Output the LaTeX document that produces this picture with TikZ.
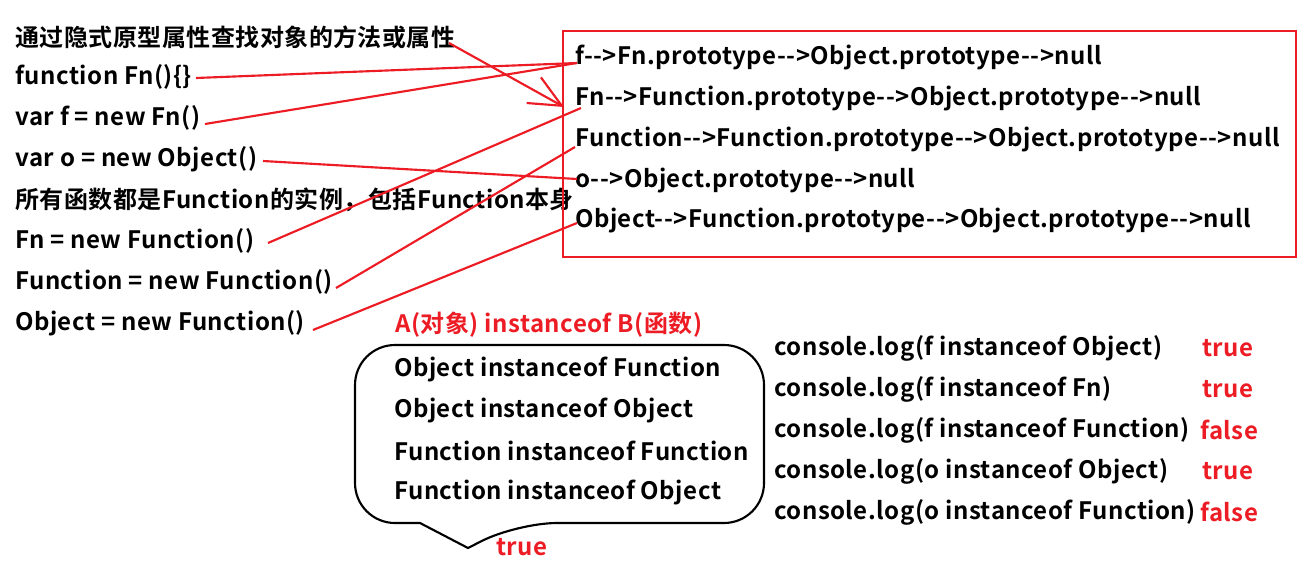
\documentclass[tikz,border=0pt]{standalone}
\usepackage{fontspec}
\setmainfont{Noto Sans CJK SC}[BoldFont={Noto Sans CJK SC Bold},BoldFeatures={LetterSpace=2.0}]
\usetikzlibrary{arrows.meta,calc}
\definecolor{rd}{RGB}{237,28,36}
\begin{document}
\begin{tikzpicture}[x=0.75pt,y=-0.75pt,
  txt/.style={anchor=west,inner sep=0pt,font=\fontsize{18pt}{20pt}\bfseries},
  rtxt/.style={txt,text=rd},
  ln/.style={draw=rd,line width=1.6pt}]
\useasboundingbox (0,0) rectangle (1312,564);
\fill[white] (0,0) rectangle (1312,564);
% left column
\node[txt] (l0) at (15,37) {通过隐式原型属性查找对象的方法或属性};
\node[txt] (l1) at (15,77) {function Fn()\{\}};
\node[txt] (l2) at (15,118) {var f = new Fn()};
\node[txt] (l3) at (15,159) {var o = new Object()};
\node[txt] (l4) at (15,200) {所有函数都是Function的实例，包括Function本身};
\node[txt] (l5) at (15,241) {Fn = new Function()};
\node[txt] (l6) at (15,282) {Function = new Function()};
\node[txt] (l7) at (15,323) {Object = new Function()};
% red box
\draw[rd,line width=2.2pt] (563,31) rectangle (1296,257);
\node[txt] (r1) at (575,58) {f-{}->Fn.prototype-{}->Object.prototype-{}->null};
\node[txt] (r2) at (575,99) {Fn-{}->Function.prototype-{}->Object.prototype-{}->null};
\node[txt] (r3) at (575,140) {Function-{}->Function.prototype-{}->Object.prototype-{}->null};
\node[txt] (r4) at (575,181) {o-{}->Object.prototype-{}->null};
\node[txt] (r5) at (575,221) {Object-{}->Function.prototype-{}->Object.prototype-{}->null};
% connectors
\coordinate (e0) at (449,43);
\coordinate (e1) at (196,78);
\coordinate (e2) at (205,124);
\coordinate (e3) at (263,161);
\coordinate (e5) at (268,243);
\coordinate (e6) at (336,288);
\coordinate (e7) at (313,330);
\coordinate (f1) at (577,63);
\coordinate (f2) at (564,107);
\coordinate (f3) at (581,108);
\coordinate (f4) at (575,147);
\coordinate (f5) at (577,179);
\coordinate (f6) at (577,223);
\draw[ln] (e1) -- (f1);
\draw[ln] (e2) -- (f1);
\draw[ln,-{Straight Barb[length=24pt,width=22pt,line width=1.6pt]}] (e0) -- (f2);
\draw[ln] (e3) -- (f5);
\draw[ln] (e5) -- (f3);
\draw[ln] (e6) -- (f4);
\draw[ln] (e7) -- (f6);
% instanceof title
\node[rtxt] (ab) at (395,325) {A(对象) instanceof B(函数)};
% bubble
\draw[line width=1.6pt,rounded corners=30pt] (420,523) -- (355,523) -- (355,345) -- (764,345) -- (764,523) -- (517,523) [sharp corners] -- (468,548) -- cycle;
\node[txt] (b1) at (394,369) {Object instanceof Function};
\node[txt] (b2) at (394,410) {Object instanceof Object};
\node[txt] (b3) at (394,451) {Function instanceof Function};
\node[txt] (b4) at (394,492) {Function instanceof Object};
\node[rtxt] (bt) at (496,547) {true};
% console
\node[txt] (c1) at (774,348) {console.log(f instanceof Object)};
\node[txt] (c2) at (774,389) {console.log(f instanceof Fn)};
\node[txt] (c3) at (774,430) {console.log(f instanceof Function)};
\node[txt] (c4) at (774,471) {console.log(o instanceof Object)};
\node[txt] (c5) at (774,512) {console.log(o instanceof Function)};
\node[rtxt] (v1) at (1202,348) {true};
\node[rtxt] (v2) at (1202,389) {true};
\node[rtxt] (v3) at (1200,430) {false};
\node[rtxt] (v4) at (1202,471) {true};
\node[rtxt] (v5) at (1200,512) {false};
\end{tikzpicture}
\end{document}
